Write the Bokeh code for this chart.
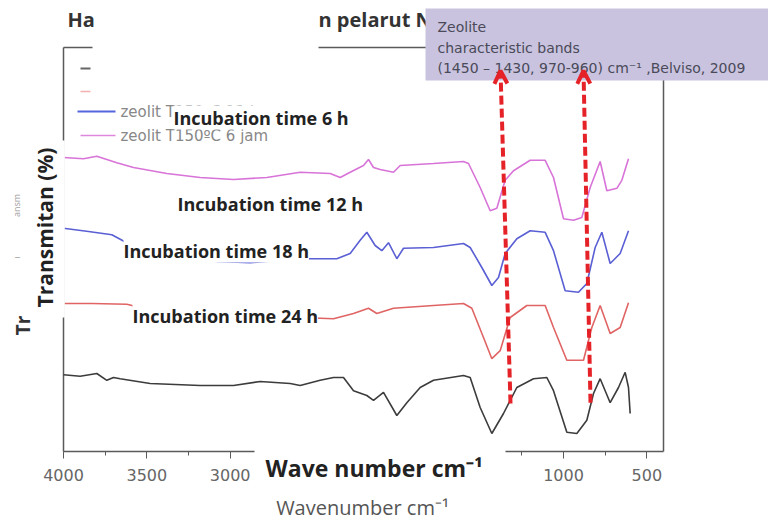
import math
from bokeh.plotting import figure
from bokeh.models import Range1d, FixedTicker, Label, BoxAnnotation, Arrow, OpenHead
from bokeh.embed import file_html
from bokeh.resources import INLINE

# ---------------- data ----------------
wn_6h = [4000, 3880, 3800, 3680, 3580, 3380, 3180, 2980, 2780, 2580, 2400, 2340, 2280, 2200, 2170,
         2140, 2100, 2020, 1980, 1780, 1600, 1570, 1500, 1440, 1400, 1350, 1300, 1200, 1110, 1060,
         1000, 940, 890, 840, 780, 740, 680, 650, 610]
t_6h = [73.5, 73.2, 73.8, 72.2, 71.0, 69.5, 68.5, 68.0, 68.5, 69.8, 69.5, 68.5, 69.8, 71.5, 73.0,
        71.0, 70.5, 69.8, 71.5, 72.0, 72.5, 72.0, 66.0, 60.2, 60.8, 67.8, 70.2, 72.8, 72.8, 68.5,
        58.2, 57.8, 58.5, 66.0, 72.5, 65.2, 65.8, 67.8, 73.2]

wn_12h = [4000, 3850, 3710, 3590, 3380, 3080, 2880, 2580, 2360, 2280, 2220, 2180, 2130, 2090, 2050,
          2000, 1960, 1780, 1600, 1560, 1490, 1430, 1390, 1350, 1280, 1200, 1110, 1060, 990, 910,
          860, 810, 770, 720, 660, 610]
t_12h = [55.8, 55.0, 54.2, 51.5, 49.0, 47.5, 47.2, 48.2, 48.2, 49.5, 52.8, 54.8, 51.5, 50.2, 52.2,
         48.2, 50.8, 51.0, 52.0, 51.0, 46.0, 41.5, 43.5, 49.5, 53.2, 55.2, 54.8, 50.2, 40.2, 39.8,
         42.0, 51.0, 54.8, 47.0, 49.5, 55.2]

wn_18h = [4000, 3830, 3620, 3540, 3340, 3080, 2880, 2580, 2380, 2260, 2170, 2120, 2020, 1780, 1600,
          1550, 1480, 1430, 1380, 1320, 1220, 1110, 1060, 980, 880, 830, 780, 720, 660, 610]
t_18h = [37.0, 37.0, 36.8, 36.0, 35.2, 34.8, 34.2, 33.5, 33.2, 34.5, 35.8, 34.5, 35.8, 36.5, 37.0,
         35.8, 28.5, 23.2, 25.2, 33.5, 36.5, 36.5, 31.0, 22.8, 22.8, 31.0, 36.5, 29.5, 31.0, 37.2]

wn_24h = [4000, 3900, 3800, 3740, 3700, 3660, 3480, 3180, 2980, 2820, 2640, 2580, 2460, 2380, 2320,
          2260, 2180, 2140, 2080, 2000, 1940, 1860, 1780, 1600, 1560, 1500, 1430, 1360, 1280, 1180,
          1100, 1060, 980, 920, 860, 820, 780, 720, 670, 630, 610, 600]
t_24h = [19.2, 18.8, 19.5, 17.8, 18.5, 18.2, 17.0, 16.5, 16.5, 17.5, 17.0, 16.5, 17.8, 18.5, 18.5,
         15.2, 14.0, 12.8, 14.8, 9.0, 12.2, 16.0, 17.8, 19.0, 18.5, 11.0, 4.5, 9.5, 16.0, 18.2,
         18.5, 15.2, 4.8, 4.5, 7.8, 14.5, 18.2, 12.2, 16.0, 19.8, 16.0, 9.5]

x_ticks = [4000, 3500, 3000, 2500, 2000, 1500, 1000, 500]
x_minor = [3750, 3250, 2750, 2250, 1750, 1250, 750]

# band-marker arrows (wavenumber, transmittance units)
arrow_x_start = [1318, 838]
arrow_y_start = [12.0, 12.2]
arrow_x_end = [1378, 880]
arrow_y_end = [95.2, 95.2]

series_colors = ["#d873d8", "#5a5fd4", "#e06464", "#3c3c3c"]

# plotted window: wavenumber 4000 -> 400, transmittance 0 -> 101
X_LO, X_HI, Y_LO, Y_HI = 4000, 400, 0, 101

# ---------------- figure ----------------
p = figure(width=768, height=520, output_backend="svg", toolbar_location=None,
           x_range=Range1d(4378, -230), y_range=Range1d(-17.25, 112.75),
           y_axis_location=None, min_border=0)
p.background_fill_color = "white"
p.border_fill_color = "white"
p.grid.visible = False
p.outline_line_color = None

ax = p.xaxis[0]
ax.fixed_location = Y_LO
ax.bounds = (X_HI, X_LO)
ax.ticker = FixedTicker(ticks=x_ticks, minor_ticks=x_minor)
ax.axis_line_color = "#5a5a5a"
ax.axis_line_width = 1.5
ax.major_tick_line_color = "#5a5a5a"
ax.minor_tick_line_color = "#5a5a5a"
ax.major_tick_in = 0
ax.major_tick_out = 7
ax.minor_tick_in = 0
ax.minor_tick_out = 4
ax.major_label_text_font = "DejaVu Sans"
ax.major_label_text_font_size = "16px"
ax.major_label_text_color = "#666666"
ax.major_label_standoff = 10


def X(px):
    return 4000 - (px - 63) * 6


def Y(py):
    return (451 - py) / 4


# frame lines (left, top, right)
p.segment(x0=[X_LO, X_LO, X_HI], y0=[Y_LO, Y_HI, Y_HI], x1=[X_LO, X_HI, X_HI], y1=[Y_HI, Y_HI, Y_LO],
          line_color="#5a5a5a", line_width=1.5)

for wn, t, c in zip([wn_6h, wn_12h, wn_18h, wn_24h], [t_6h, t_12h, t_18h, t_24h], series_colors):
    p.line(wn, t, line_color=c, line_width=1.6)

# legend remnants
p.segment(x0=[X(80), X(80), X(77), X(80)], y0=[Y(68), Y(91), Y(111), Y(135)],
          x1=[X(90), X(90), X(115), X(115)], y1=[Y(68), Y(91), Y(111), Y(135)],
          line_color=["#666666", "#f2b0b0", "#5566dd", "#dd88dd"], line_width=[2, 1.5, 2, 1.5])


def lab(px, py, text, size, color, font="Open Sans", style="normal", align="left", angle=0,
        bg=None):
    l = Label(x=X(px), y=Y(py), text=text, text_font=font, text_font_size=size,
              text_font_style=style, text_color=color, text_align=align,
              text_baseline="middle", angle=angle)
    if bg is not None:
        l.background_fill_color = bg
        l.background_fill_alpha = 1.0
    p.add_layout(l)
    return l


lab(120, 111, "zeolit T150ºC 12 jam", "15px", "#888888", font="DejaVu Sans")
lab(120, 135, "zeolit T150ºC 6 jam", "15px", "#888888", font="DejaVu Sans")

# white patches
p.add_layout(BoxAnnotation(left=X(92), right=X(318), top=Y(38), bottom=Y(54),
                           fill_color="white", fill_alpha=1, line_color=None))
p.add_layout(BoxAnnotation(left=X(22), right=X(64.3), top=Y(140), bottom=Y(317),
                           fill_color="white", fill_alpha=1, line_color=None))
p.add_layout(BoxAnnotation(left=X(254), right=X(505), top=Y(445), bottom=Y(492),
                           fill_color="white", fill_alpha=1, line_color=None))

# title fragments
lab(67, 19, "Ha", "20px", "#333333", style="bold")
lab(318, 19, "n pelarut NaOH", "20px", "#333333", style="bold")

# incubation labels
lab(173, 117, "Incubation time 6 h", "18px", "#222222", style="bold", bg="white")
lab(177, 203, "Incubation time 12 h", "18px", "#222222", style="bold", bg="white")
lab(123, 250, "Incubation time 18 h", "18px", "#222222", style="bold", bg="white")
lab(132, 315, "Incubation time 24 h", "18px", "#222222", style="bold", bg="white")

# axis titles (and remnants of an older one)
lab(44, 227, "Transmitan (%)", "21px", "#222222", style="bold", align="center", angle=math.pi / 2)
lab(22, 325, "Tr", "19px", "#333333", style="bold", align="center", angle=math.pi / 2)
lab(16, 205, "ansm", "9px", "#a0a0a0", align="center", angle=math.pi / 2)
lab(16, 257, "ı", "9px", "#a0a0a0", align="center", angle=math.pi / 2)
lab(265, 467, "Wave number cm⁻¹", "23px", "#222222", style="bold")
lab(362, 507, "Wavenumber cm⁻¹", "20px", "#555555", align="center")

# characteristic-band box
p.add_layout(BoxAnnotation(left=X(425), right=X(768), top=Y(8), bottom=Y(80),
                           fill_color="#c9c3df", fill_alpha=1, line_color=None))
lab(437, 26, "Zeolite", "14px", "#4a4a58", font="DejaVu Sans")
lab(437, 47, "characteristic bands", "14px", "#4a4a58", font="DejaVu Sans")
lab(437, 67, "(1450 – 1430, 970-960) cm⁻¹ ,Belviso, 2009", "14px", "#4a4a58", font="DejaVu Sans")

for xs, ys, xe, ye in zip(arrow_x_start, arrow_y_start, arrow_x_end, arrow_y_end):
    p.add_layout(Arrow(x_start=xs, y_start=ys, x_end=xe, y_end=ye,
                       line_color="#e52228", line_width=4, line_dash="9 4",
                       end=OpenHead(size=13, line_color="#e52228", line_width=4)))

open("out.html", "w").write(file_html(p, INLINE))
